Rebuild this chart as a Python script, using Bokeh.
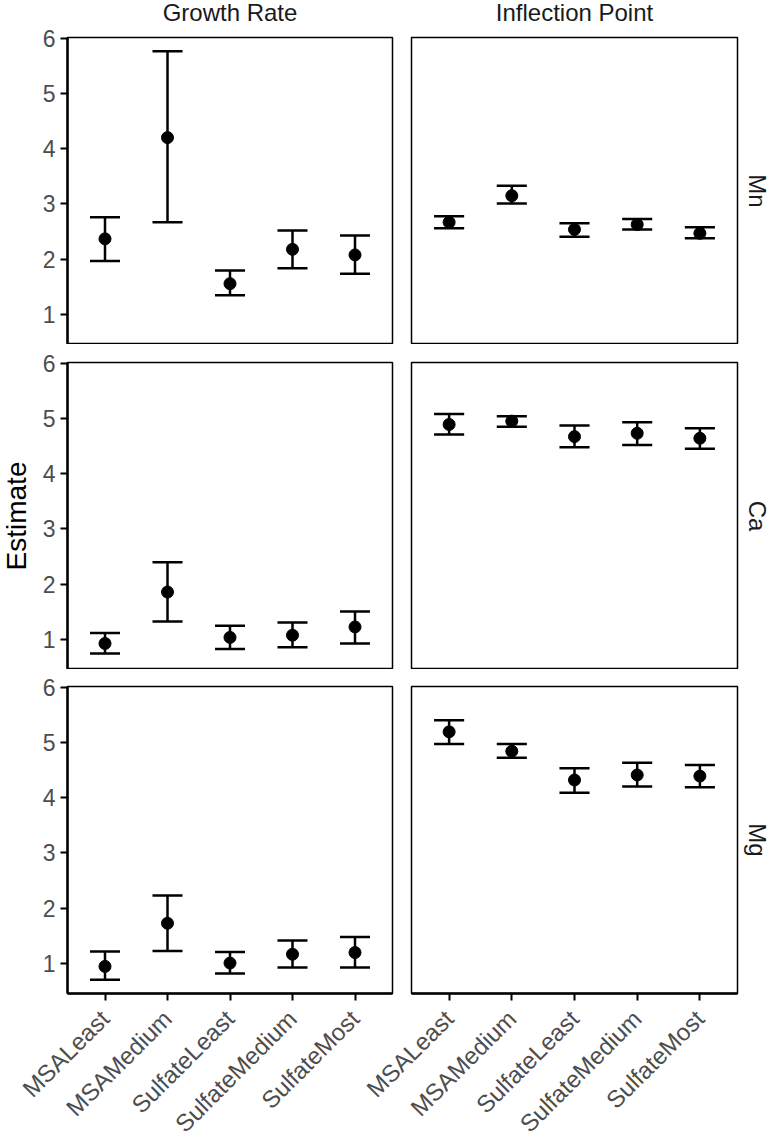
import math
from bokeh.plotting import figure
from bokeh.layouts import column, row
from bokeh.models import Range1d, FixedTicker, Title, ColumnDataSource
from bokeh.embed import file_html
from bokeh.resources import INLINE

categories = ["MSALeast", "MSAMedium", "SulfateLeast", "SulfateMedium", "SulfateMost"]
parameters = ["Growth Rate", "Inflection Point"]
elements = ["Mn", "Ca", "Mg"]
y_ticks = [1, 2, 3, 4, 5, 6]

growth_mn_est = [2.37, 4.20, 1.56, 2.18, 2.08]
growth_mn_lo = [1.97, 2.67, 1.35, 1.84, 1.74]
growth_mn_hi = [2.76, 5.76, 1.80, 2.52, 2.43]
infl_mn_est = [2.67, 3.15, 2.54, 2.63, 2.47]
infl_mn_lo = [2.56, 3.01, 2.41, 2.54, 2.38]
infl_mn_hi = [2.78, 3.33, 2.65, 2.73, 2.58]

growth_ca_est = [0.93, 1.86, 1.04, 1.08, 1.23]
growth_ca_lo = [0.75, 1.33, 0.83, 0.86, 0.93]
growth_ca_hi = [1.12, 2.40, 1.25, 1.31, 1.51]
infl_ca_est = [4.89, 4.95, 4.67, 4.73, 4.64]
infl_ca_lo = [4.71, 4.85, 4.48, 4.52, 4.45]
infl_ca_hi = [5.08, 5.04, 4.87, 4.93, 4.82]

growth_mg_est = [0.95, 1.73, 1.01, 1.17, 1.20]
growth_mg_lo = [0.71, 1.23, 0.82, 0.93, 0.93]
growth_mg_hi = [1.22, 2.23, 1.21, 1.42, 1.48]
infl_mg_est = [5.19, 4.84, 4.32, 4.41, 4.39]
infl_mg_lo = [4.97, 4.72, 4.09, 4.20, 4.19]
infl_mg_hi = [5.40, 4.97, 4.53, 4.63, 4.59]

panel_data = [
    [(growth_mn_est, growth_mn_lo, growth_mn_hi), (infl_mn_est, infl_mn_lo, infl_mn_hi)],
    [(growth_ca_est, growth_ca_lo, growth_ca_hi), (infl_ca_est, infl_ca_lo, infl_ca_hi)],
    [(growth_mg_est, growth_mg_lo, growth_mg_hi), (infl_mg_est, infl_mg_lo, infl_mg_hi)],
]

FONT = "Liberation Sans"
CAP_HALF = 0.24
xpos = [i + 1 for i in range(len(categories))]

TOP_EXTRA = 30      # extra room above the top row, hidden by a negative margin
LEFT_EXTRA = 120    # extra room for bottom-right rotated labels, overlapping the left panel
YLABEL_EXTRA = 14   # extra room for the "Estimate" label, hidden by a negative margin
BORDER_TOP = [37, 18, 17]
BORDER_BOTTOM = [0, 0, 145]


def make_panel(r, c):
    est, lo, hi = panel_data[r][c]
    left = c == 0
    bottom = r == 2
    mb_left = 67 if left else 10
    mb_top = BORDER_TOP[r]
    margin = [0, 0, 0, 0]
    if r == 0:
        mb_top += TOP_EXTRA
        margin[0] = -TOP_EXTRA
    if bottom and not left:
        mb_left += LEFT_EXTRA
        margin[3] = -LEFT_EXTRA
    if left and r == 1:
        mb_left += YLABEL_EXTRA
        margin[3] = -YLABEL_EXTRA
    p = figure(
        frame_width=325 if left else 326,
        frame_height=307,
        x_range=Range1d(0.4, 5.6),
        y_range=Range1d(0.46, 6.01),
        output_backend="svg",
        toolbar_location=None,
        tools="",
        min_border_left=mb_left,
        min_border_right=9 if left else 37,
        min_border_top=mb_top,
        min_border_bottom=BORDER_BOTTOM[r],
        margin=tuple(margin),
    )
    p.background_fill_color = "white"
    p.border_fill_color = None if (bottom and not left) else "white"
    p.outline_line_color = "black"
    p.outline_line_width = 1.5
    p.xgrid.visible = False
    p.ygrid.visible = False

    src = ColumnDataSource(dict(
        x=xpos, est=est, lo=lo, hi=hi,
        xl=[x - CAP_HALF for x in xpos], xr=[x + CAP_HALF for x in xpos],
    ))
    p.segment(x0="x", y0="lo", x1="x", y1="hi", source=src, line_color="black", line_width=2.5)
    p.segment(x0="xl", y0="hi", x1="xr", y1="hi", source=src, line_color="black", line_width=2.5)
    p.segment(x0="xl", y0="lo", x1="xr", y1="lo", source=src, line_color="black", line_width=2.5)
    p.scatter(x="x", y="est", source=src, size=12, color="black")

    yax = p.yaxis[0]
    if left:
        yax.ticker = FixedTicker(ticks=y_ticks)
        yax.axis_line_width = 2.5
        yax.axis_line_color = "black"
        yax.major_tick_line_width = 2
        yax.major_tick_out = 7
        yax.major_tick_in = 0
        yax.minor_tick_line_color = None
        yax.major_label_standoff = 5
        yax.major_label_text_font = FONT
        yax.major_label_text_font_size = "23px"
        yax.major_label_text_color = "#4d4d4d"
        if r == 1:
            yax.axis_label = "Estimate"
            yax.axis_label_text_font = FONT
            yax.axis_label_text_font_size = "28px"
            yax.axis_label_text_font_style = "normal"
            yax.axis_label_text_color = "black"
            yax.axis_label_standoff = 8
    else:
        yax.visible = False

    xax = p.xaxis[0]
    if bottom:
        xax.ticker = FixedTicker(ticks=xpos)
        xax.major_label_overrides = {x: cat for x, cat in zip(xpos, categories)}
        xax.major_label_orientation = math.pi / 4
        xax.axis_line_width = 2.5
        xax.axis_line_color = "black"
        xax.major_tick_line_width = 2
        xax.major_tick_out = 7
        xax.major_tick_in = 0
        xax.minor_tick_line_color = None
        xax.major_label_standoff = 14
        xax.major_label_text_font = FONT
        xax.major_label_text_font_size = "24px"
        xax.major_label_text_color = "#4d4d4d"
    else:
        xax.visible = False

    if r == 0:
        p.add_layout(Title(text=parameters[c], align="center", text_font=FONT,
                           text_font_size="24px", text_font_style="normal",
                           text_color="#1a1a1a", standoff=23), "above")
    if c == 1:
        p.add_layout(Title(text=elements[r], align="center", text_font=FONT,
                           text_font_size="24px", text_font_style="normal",
                           text_color="#1a1a1a", standoff=12), "right")
    return p


rows = []
for r in range(3):
    rows.append(row(make_panel(r, 0), make_panel(r, 1), spacing=0))
layout = column(*rows, spacing=0)

open("out.html", "w").write(file_html(layout, INLINE))
